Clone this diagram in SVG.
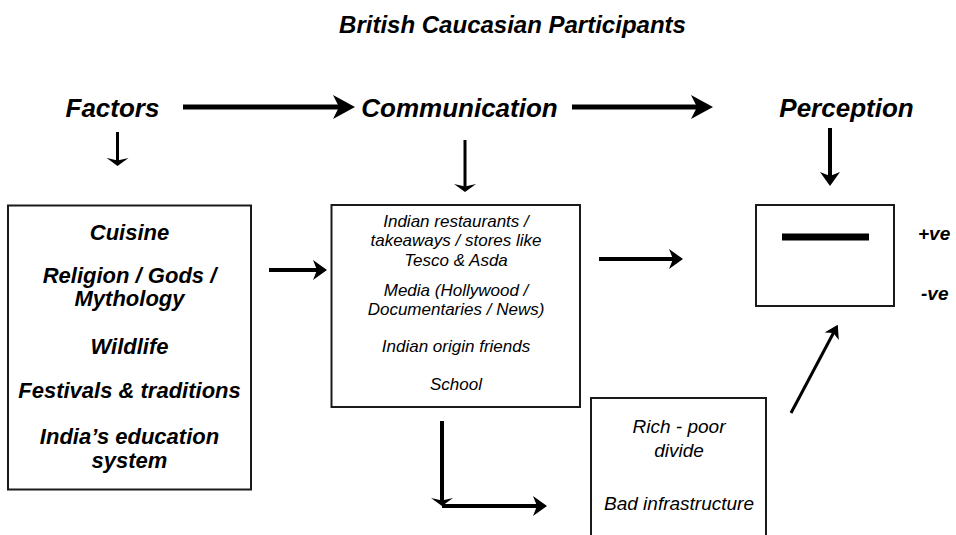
<svg xmlns="http://www.w3.org/2000/svg" width="956" height="535" viewBox="0 0 956 535">
<style>
  text { font-family: "Liberation Sans", Arial, sans-serif; font-style: italic; fill: #000; text-anchor: middle; }
  .title { font-size: 24px; font-weight: bold; }
  .head { font-size: 26px; font-weight: bold; }
  .f1 { font-size: 22px; font-weight: bold; }
  .f2 { font-size: 17px; }
  .f4 { font-size: 19px; }
  .pm { font-size: 19px; font-weight: bold; text-anchor: start; }
  .box { fill: #fff; stroke: #1a1a1a; stroke-width: 2; }
  .c { stroke: #000; fill: none; }
</style>
<defs>
  <marker id="ahL" markerUnits="userSpaceOnUse" viewBox="0 0 22 24" markerWidth="22" markerHeight="24" refX="14" refY="12" orient="auto">
    <path d="M0,0 L22,12 L0,24 L6,12 z" fill="#000"/>
  </marker>
  <marker id="ahM" markerUnits="userSpaceOnUse" viewBox="0 0 14 20" markerWidth="14" markerHeight="20" refX="8" refY="10" orient="auto">
    <path d="M0,0 L14,10 L0,20 L4,10 z" fill="#000"/>
  </marker>
  <marker id="ahV" markerUnits="userSpaceOnUse" viewBox="0 0 8 22" markerWidth="8" markerHeight="22" refX="4" refY="11" orient="auto">
    <path d="M0,0 L8,11 L0,22 L2.5,11 z" fill="#000"/>
  </marker>
  <marker id="ahD" markerUnits="userSpaceOnUse" viewBox="0 0 13 16" markerWidth="13" markerHeight="16" refX="7" refY="8" orient="auto">
    <path d="M0,0 L13,8 L0,16 L3.5,8 z" fill="#000"/>
  </marker>
</defs>

<g id="title">
  <text class="title" x="512.5" y="33">British Caucasian Participants</text>
</g>

<g id="factors-label"><text class="head" x="112.5" y="117">Factors</text></g>
<g id="communication-label"><text class="head" x="459.5" y="117">Communication</text></g>
<g id="perception-label"><text class="head" x="846.5" y="117">Perception</text></g>

<g id="factors-box">
  <rect class="box" x="8" y="205.5" width="243" height="284"/>
  <text class="f1" x="129.5" y="240">Cuisine</text>
  <text class="f1" x="129.5" y="283">Religion / Gods /</text>
  <text class="f1" x="129.5" y="306">Mythology</text>
  <text class="f1" x="129.5" y="354">Wildlife</text>
  <text class="f1" x="129.5" y="398">Festivals &amp; traditions</text>
  <text class="f1" x="129.5" y="444">India’s education</text>
  <text class="f1" x="129.5" y="468">system</text>
</g>

<g id="communication-box">
  <rect class="box" x="331.5" y="205" width="248.5" height="202"/>
  <text class="f2" x="456" y="227">Indian restaurants /</text>
  <text class="f2" x="456" y="246">takeaways / stores like</text>
  <text class="f2" x="456" y="265.5">Tesco &amp; Asda</text>
  <text class="f2" x="456" y="296">Media (Hollywood /</text>
  <text class="f2" x="456" y="315">Documentaries / News)</text>
  <text class="f2" x="456" y="352">Indian origin friends</text>
  <text class="f2" x="456" y="390">School</text>
</g>

<g id="perception-box">
  <rect class="box" x="756" y="205" width="138" height="101"/>
  <rect x="782" y="233.5" width="87" height="7" fill="#000"/>
  <text class="pm" x="918" y="240">+ve</text>
  <text class="pm" x="921" y="300">-ve</text>
</g>

<g id="negative-box">
  <rect class="box" x="591" y="398" width="175" height="150"/>
  <text class="f4" x="679" y="433">Rich - poor</text>
  <text class="f4" x="679" y="457">divide</text>
  <text class="f4" x="679" y="510">Bad infrastructure</text>
</g>

<g id="connectors">
  <line class="c" x1="183" y1="107" x2="347" y2="107" stroke-width="5" marker-end="url(#ahL)"/>
  <line class="c" x1="572" y1="107" x2="705" y2="107" stroke-width="5" marker-end="url(#ahL)"/>
  <line class="c" x1="117.5" y1="132" x2="117.5" y2="162" stroke-width="3" marker-end="url(#ahV)"/>
  <line class="c" x1="465" y1="140" x2="465" y2="188" stroke-width="3" marker-end="url(#ahV)"/>
  <line class="c" x1="830" y1="128" x2="830" y2="180" stroke-width="4" marker-end="url(#ahM)"/>
  <line class="c" x1="269" y1="270" x2="321" y2="270" stroke-width="4" marker-end="url(#ahM)"/>
  <line class="c" x1="599" y1="259" x2="677" y2="259" stroke-width="4" marker-end="url(#ahM)"/>
  <line class="c" x1="442" y1="421" x2="442" y2="502" stroke-width="4" marker-end="url(#ahV)"/>
  <line class="c" x1="442" y1="506" x2="541" y2="506" stroke-width="4" marker-end="url(#ahM)"/>
  <line class="c" x1="791" y1="413" x2="835" y2="330" stroke-width="3" marker-end="url(#ahD)"/>
</g>
</svg>
